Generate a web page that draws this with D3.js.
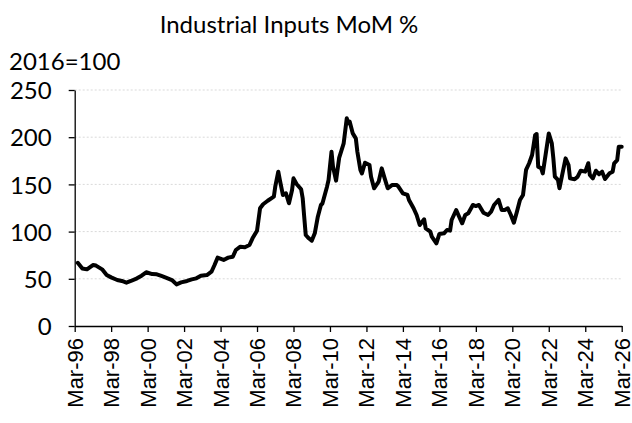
<!DOCTYPE html>
<html>
<head>
<meta charset="utf-8">
<script src="https://cdn.jsdelivr.net/npm/d3@7"></script>
<style>
  body { margin: 0; background: #fff; }
  #chart svg { display: block; }
  .grid line { stroke: #d9d9d9; stroke-dasharray: 2 2; }
  .axis path, .axis line { stroke: #000; stroke-width: 1.3; }
  .y-axis text { font-family: Lato, sans-serif; font-size: 24px; fill: #000; }
  .x-axis text { font-family: "Liberation Sans", Arial, sans-serif; font-size: 22px; fill: #000; }
</style>
</head>
<body>
<div id="chart"></div>
<script>
// series (month, index value)
const dates = [
  "1996-05", "1996-08", "1996-11", "1997-03", "1997-05", "1997-09", "1997-12", "1998-03",
  "1998-07", "1998-10", "1999-01", "1999-04", "1999-08", "1999-11", "2000-02", "2000-06",
  "2000-09", "2000-12", "2001-03", "2001-07", "2001-10", "2002-01", "2002-05", "2002-08",
  "2002-11", "2003-02", "2003-06", "2003-09", "2003-11", "2004-01", "2004-05", "2004-08",
  "2004-11", "2005-01", "2005-04", "2005-07", "2005-10", "2005-12", "2006-03", "2006-05",
  "2006-07", "2006-10", "2007-02", "2007-03", "2007-05", "2007-06", "2007-08", "2007-10",
  "2007-12", "2008-02", "2008-03", "2008-05", "2008-08", "2008-09", "2008-10", "2008-11",
  "2009-01", "2009-03", "2009-05", "2009-07", "2009-09", "2009-10", "2010-01", "2010-02",
  "2010-04", "2010-05", "2010-07", "2010-09", "2010-12", "2011-02", "2011-03", "2011-04",
  "2011-06", "2011-08", "2011-09", "2011-11", "2011-12", "2012-02", "2012-05", "2012-06",
  "2012-08", "2012-11", "2013-01", "2013-03", "2013-05", "2013-08", "2013-11", "2013-12",
  "2014-03", "2014-06", "2014-07", "2014-10", "2014-12", "2015-02", "2015-05", "2015-06",
  "2015-09", "2015-10", "2016-01", "2016-03", "2016-06", "2016-08", "2016-10", "2016-11",
  "2017-02", "2017-04", "2017-06", "2017-08", "2017-10", "2018-01", "2018-03", "2018-05",
  "2018-08", "2018-11", "2019-01", "2019-03", "2019-06", "2019-08", "2019-10", "2019-12",
  "2020-02", "2020-04", "2020-06", "2020-08", "2020-10", "2020-12", "2021-02", "2021-04",
  "2021-06", "2021-07", "2021-08", "2021-10", "2021-11", "2022-01", "2022-03", "2022-05",
  "2022-06", "2022-07", "2022-09", "2022-10", "2022-12", "2023-02", "2023-04", "2023-05",
  "2023-08", "2023-10", "2023-12", "2024-03", "2024-05", "2024-06", "2024-08", "2024-10",
  "2024-12", "2025-02", "2025-04", "2025-07", "2025-09", "2025-10", "2025-12", "2026-01",
  "2026-03"
];
const values = [
  67, 61, 60, 64.6, 64, 60, 54, 51.5,
  48.7, 47.7, 45.9, 47.7, 50.5, 53.3, 56.9, 55,
  54.7, 53, 51.2, 48.7, 44.1, 46.2, 47.7, 49.4,
  50.5, 53.3, 54, 57.5, 64.6, 72.4, 70, 72.4,
  73.4, 80.5, 84, 83.4, 85.8, 92.9, 101, 124.7,
  129, 132.7, 137, 147.6, 163.5, 154.7, 138.8, 140.6,
  130, 144, 156.4, 150.4, 144.8, 135.3, 115.8, 96.4,
  92.9, 90.4, 98.2, 115.8, 128.2, 129.8, 147.6, 154.7,
  184.6, 168.8, 154, 178, 193.5, 220, 214.7, 216.4,
  204, 198.8, 184.6, 165.3, 161.7, 173, 170.6, 158.2,
  145.9, 152.9, 167, 156.4, 145.9, 149.4, 149.4, 147.6,
  140.6, 138.8, 133.5, 124.7, 117.6, 107, 113, 103.5,
  99.9, 94.6, 87.6, 97.5, 98.2, 101.7, 101, 112.3,
  122.9, 115.8, 108.8, 117.6, 119.4, 128.2, 127.1, 128.2,
  120, 117.6, 121.1, 128.2, 133.5, 122.9, 122.9, 124.7,
  117.6, 109.4, 121.1, 133.5, 138.8, 165.3, 172.4, 181.1,
  202.3, 203.4, 168.8, 167, 161.7, 183, 204, 193.5,
  177.6, 158.2, 154.7, 145.9, 161.7, 177.6, 170.6, 156.4,
  155.4, 158.2, 164.5, 163.5, 172.4, 160, 156.4, 164.5,
  160.7, 163.5, 155.7, 161.7, 163.5, 172.4, 175.8, 189.9,
  189.9
];
const yTicks = [0, 50, 100, 150, 200, 250];
const xTickYears = [1996, 1998, 2000, 2002, 2004, 2006, 2008, 2010, 2012, 2014, 2016, 2018, 2020, 2022, 2024, 2026];
const title = "Industrial Inputs MoM %";
const unitLabel = "2016=100";

const W = 632, H = 423;
const margin = { left: 74.7, right: 10.3, top: 90, bottom: 97 };

const parse = d3.timeParse("%Y-%m");
const data = dates.map((d, i) => ({ date: parse(d), value: values[i] }));

const svg = d3.select("#chart")
  .append("svg")
  .attr("width", W)
  .attr("height", H)
  .attr("viewBox", `0 0 ${W} ${H}`);

const x = d3.scaleTime()
  .domain([new Date(1996, 2, 1), new Date(2026, 2, 1)])
  .range([margin.left, W - margin.right]);

const y = d3.scaleLinear()
  .domain([0, 250])
  .range([H - margin.bottom, margin.top]);

// gridlines
svg.append("g")
  .attr("class", "grid")
  .selectAll("line")
  .data(yTicks.filter(t => t > 0))
  .join("line")
  .attr("x1", margin.left)
  .attr("x2", W - margin.right)
  .attr("y1", d => y(d))
  .attr("y2", d => y(d));

// y axis
svg.append("g")
  .attr("class", "axis y-axis")
  .attr("transform", `translate(${margin.left},0)`)
  .call(d3.axisLeft(y).tickValues(yTicks).tickSize(6).tickSizeOuter(0).tickPadding(17))
  .selectAll(".tick text")
  .attr("dy", "0.36em");

// x axis
const xAxis = svg.append("g")
  .attr("class", "axis x-axis")
  .attr("transform", `translate(0,${y(0)})`)
  .call(
    d3.axisBottom(x)
      .tickValues(xTickYears.map(yr => new Date(yr, 2, 1)))
      .tickFormat(d3.timeFormat("%b-%y"))
      .tickSize(6)
      .tickSizeOuter(0)
  );

xAxis.selectAll(".tick text")
  .attr("text-anchor", "end")
  .attr("transform", "rotate(-90)")
  .attr("x", -12)
  .attr("y", 0)
  .attr("dy", "0.34em");

// series line
svg.append("path")
  .datum(data)
  .attr("fill", "none")
  .attr("stroke", "#000")
  .attr("stroke-width", 4)
  .attr("stroke-linejoin", "round")
  .attr("stroke-linecap", "round")
  .attr("d", d3.line().x(d => x(d.date)).y(d => y(d.value)));

// title and unit label
svg.append("text")
  .attr("x", 289)
  .attr("y", 33)
  .attr("text-anchor", "middle")
  .style("font-family", "Lato, sans-serif")
  .style("font-size", "24px")
  .text(title);

svg.append("text")
  .attr("x", 9)
  .attr("y", 70)
  .style("font-family", "Lato, sans-serif")
  .style("font-size", "24px")
  .text(unitLabel);
</script>
</body>
</html>
